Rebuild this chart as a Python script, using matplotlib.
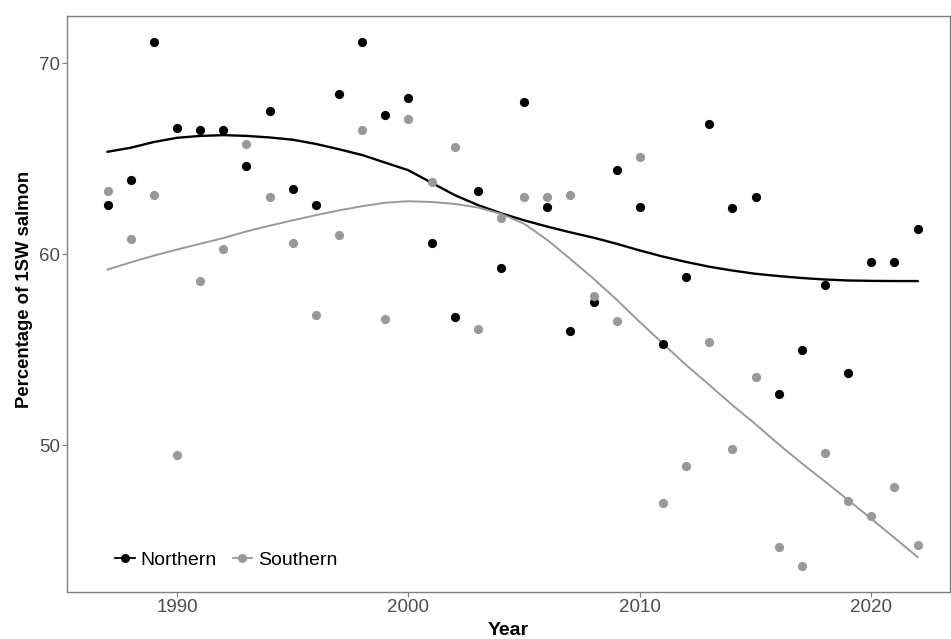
import numpy as np
import matplotlib.pyplot as plt

## données
annees = np.arange(1987, 2023)
nord = [62.6, 63.9, 71.1, 66.6, 66.5, 66.5, 64.6, 67.5, 63.4, 62.6,
        68.4, 71.1, 67.3, 68.2, 60.6, 56.7, 63.3, 59.3, 68.0, 62.5,
        56.0, 57.5, 64.4, 62.5, 55.3, 58.8, 66.8, 62.4, 63.0, 52.7,
        55.0, 58.4, 53.8, 59.6, 59.6, 61.3]
sud = [63.3, 60.8, 63.1, 49.5, 58.6, 60.3, 65.8, 63.0, 60.6, 56.8,
       61.0, 66.5, 56.6, 67.1, 63.8, 65.6, 56.1, 61.9, 63.0, 63.0,
       63.1, 57.8, 56.5, 65.1, 47.0, 48.9, 55.4, 49.8, 53.6, 44.7,
       43.7, 49.6, 47.1, 46.3, 47.8, 44.8]
# courbes de lissage (une valeur par an)
lisse_nord = [65.37, 65.58, 65.88, 66.10, 66.20, 66.24, 66.20, 66.12, 66.00, 65.78,
              65.50, 65.20, 64.80, 64.40, 63.75, 63.10, 62.58, 62.15, 61.78, 61.45,
              61.15, 60.87, 60.55, 60.20, 59.88, 59.60, 59.35, 59.15, 58.98, 58.86,
              58.76, 58.68, 58.63, 58.61, 58.60, 58.60]
lisse_sud = [59.20, 59.58, 59.93, 60.25, 60.55, 60.85, 61.20, 61.50, 61.78, 62.05,
             62.30, 62.52, 62.70, 62.78, 62.74, 62.64, 62.45, 62.12, 61.60, 60.75,
             59.75, 58.72, 57.62, 56.45, 55.32, 54.20, 53.16, 52.10, 51.10, 50.05,
             49.05, 48.10, 47.13, 46.15, 45.15, 44.15]
noms = ["Northern", "Southern"]
couleurs = ["black", "#999999"]

plt.rcParams['font.family'] = ['Liberation Sans', 'DejaVu Sans']
fig = plt.figure(figsize=(9.51, 6.39), dpi=100)
ax = fig.add_axes([0.0705, 0.0736, 0.9285, 0.9014])

for vals, lisse, nom, c, lw in zip([nord, sud], [lisse_nord, lisse_sud], noms, couleurs, [1.7, 1.4]):
    ax.scatter(annees, vals, s=44, color=c, zorder=3, linewidths=0)
    ax.plot(annees, lisse, color=c, lw=lw, zorder=2, solid_joinstyle='round')
    ax.plot([], [], color=c, lw=1.3, marker='o', ms=5.5, label=nom)

ax.set_xlim(1985.25, 2023.4)
ax.set_ylim(42.32, 72.48)
ax.set_xticks([1990, 2000, 2010, 2020])
ax.set_yticks([50, 60, 70])
ax.tick_params(colors='#7f7f7f', labelcolor='#4d4d4d', labelsize=13.5, length=3.6, pad=1.5)
for s in ax.spines.values():
    s.set_color('#7f7f7f')
    s.set_linewidth(1.0)
ax.set_xlabel("Year", fontsize=14, fontweight='bold', labelpad=4)
ax.set_ylabel("Percentage of 1SW salmon", fontsize=13.3, fontweight='bold')
ax.yaxis.set_label_coords(-0.0385, 0.526)
ax.legend(loc='lower left', bbox_to_anchor=(0.035, 0.01), ncol=2, frameon=False,
          fontsize=14, handlelength=1.0, handletextpad=0.3, columnspacing=0.8)

plt.savefig("out.png", dpi=100)
